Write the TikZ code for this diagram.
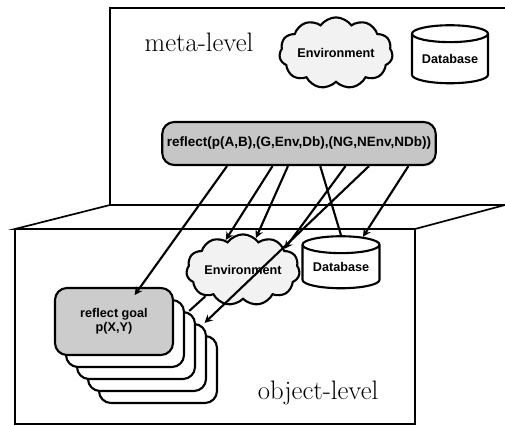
\documentclass[tikz,border=0pt]{standalone}
\usepackage{fontspec}
\newfontfamily\lblfont{Liberation Sans}
\usetikzlibrary{shapes.geometric,shapes.symbols,calc}

\begin{document}
\begin{tikzpicture}[->, >=stealth, line width=1.5pt, x=0.25mm, y=-0.25mm]
	\tikzstyle{every node}=[font=\lblfont\bfseries\fontsize{9}{10}\selectfont]
	\tikzstyle{levellabel}=[font=\rmfamily\fontsize{19}{22}\selectfont]
	\tikzstyle{cloudbox}=[draw, cloud, cloud puffs=11, cloud puff arc=110, aspect=1.9, fill=gray!10, inner sep=0pt]
	\tikzstyle{dbbox}=[draw, cylinder, shape border rotate=90, shape aspect=0.3, fill=white, inner sep=0pt]
	\tikzstyle{goalcard}=[draw, rounded corners=3mm, minimum width=29.5mm, minimum height=16.75mm, fill=white, align=center, inner sep=0pt]

	\useasboundingbox (0,0) rectangle (505,426);
	% meta-level box
	\draw[-, line width=1.2pt] (110,205) -- (110,8) -- (505,8);
	% object-level box
	\draw[-, line width=1.2pt, fill=white] (15,229) -- (110,205) -- (505,205) -- (415,229) -- cycle;
	\draw[-, line width=1.2pt, fill=white] (15,229) rectangle (415,424);

	\node[levellabel] (metalbl) at (199,42) {meta-level};
	\node[levellabel] (objlbl) at (318,393) {object-level};

	\node[cloudbox, minimum width=26.75mm, minimum height=14.25mm] (envm) at (336,53) {Environment};
	\node[dbbox, minimum width=19mm, minimum height=14.5mm] (dbm) at (450,59) {Database};
	\node[draw, rounded corners=3mm, fill=gray!45, minimum width=68mm, minimum height=10.75mm, font=\lblfont\bfseries\fontsize{9.6}{11}\selectfont] (reflect) at (299,143.5) {reflect(p(A,B),(G,Env,Db),(NG,NEnv,NDb))};

	\node[cloudbox, minimum width=25.75mm, minimum height=13.75mm] (envo) at (243,270) {Environment};
	\node[dbbox, minimum width=19.25mm, minimum height=13mm] (dbo) at (341,267) {Database};

	% stack of goals
	\foreach \k in {4,3,2,1}
		\node[goalcard] (card\k) at (114+11*\k, 321.5+12*\k) {};
	\node[goalcard, fill=gray!40] (goal) at (114,321.5) {reflect goal\\p(X,Y)};

	\draw[shorten >=-2.5mm] ($(reflect.south west)!0.239!(reflect.south east)$) -> ($(goal.north west)!0.72!(goal.north east)$);
	\draw ($(reflect.south west)!0.404!(reflect.south east)$) -> (envo.120);
	\draw ($(reflect.south west)!0.46!(reflect.south east)$) -> (envo.68);
	\draw[-] ($(reflect.south west)!0.577!(reflect.south east)$) -- (dbo.north);
	\draw ($(reflect.south west)!0.669!(reflect.south east)$) -> (envo.27);
	\draw ($(reflect.south west)!0.754!(reflect.south east)$) -> (card3.31);
	\draw ($(reflect.south west)!0.897!(reflect.south east)$) -> (dbo.54);
	\draw[-] (envo.215) -- (card2.33);
\end{tikzpicture}
\end{document}
